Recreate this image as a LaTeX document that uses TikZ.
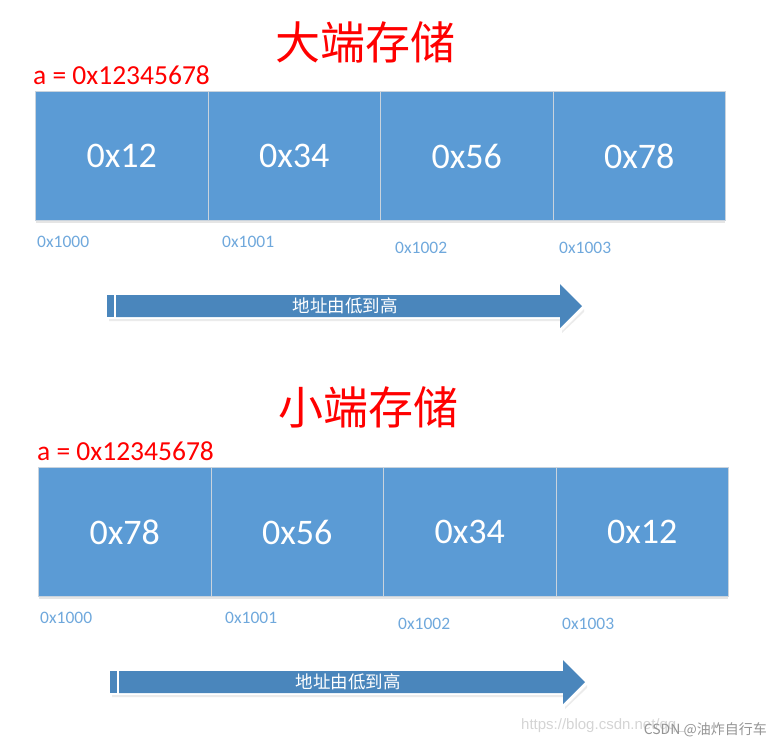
\documentclass[tikz,border=0pt]{standalone}
\usepackage{fontspec}
\setmainfont{Carlito}
\newfontfamily\cjk{Noto Sans CJK SC}
\newfontfamily\wmfont{Liberation Sans}
\definecolor{cellblue}{HTML}{5B9BD5}
\definecolor{arrowblue}{HTML}{4A86BC}
\definecolor{addrblue}{HTML}{6FA8DC}
\definecolor{divgray}{HTML}{C9D3DD}
\definecolor{wmgray}{HTML}{B8B8B8}
\begin{document}
\begin{tikzpicture}[x=1pt,y=-1pt,
  titletext/.style={text=red,font=\cjk\fontsize{45}{50}\selectfont,inner sep=0},
  vartext/.style={text=red,font=\fontsize{27.5}{30}\selectfont,inner sep=0,anchor=west},
  cell/.style={fill=cellblue,draw=divgray,line width=1pt,minimum width=172.5pt,minimum height=129pt,inner sep=0,anchor=north west,
     text=white,font=\fontsize{36}{40}\selectfont},
  addr/.style={text=addrblue,font=\fontsize{17.5}{19}\selectfont,inner sep=0,anchor=west},
  arrtext/.style={text=white,font=\cjk\fontsize{17.5}{20}\selectfont,inner sep=0},
  shadowbox/.style={fill=black!10},
  arrowbody/.style={fill=arrowblue}
]
\useasboundingbox (0,0) rectangle (774,745);
% ---------- top: big endian ----------
\node[titletext] (t1) at (365,42) {大端存储};
\node[vartext] (v1) at (33,75) {a = 0x12345678};
\fill[shadowbox] (36,221) rectangle (725,223);
\node[cell] (a1) at (35,91) {0x12};
\node[cell] (a2) at (207.5,91) {0x34};
\node[cell] (a3) at (380,91) {0x56};
\node[cell] (a4) at (552.5,91) {0x78};
\node[addr] (d1) at (37,242) {0x1000};
\node[addr] (d2) at (222,242) {0x1001};
\node[addr] (d3) at (395,248) {0x1002};
\node[addr] (d4) at (559,248) {0x1003};
\fill[black!8] (109,319) -- (562,319) -- (562,331) -- (584,309) -- (584,312) -- (562,333) -- (562,321) -- (109,321) -- cycle;
\fill[arrowbody] (107,295) rectangle (114,317);
\fill[arrowbody] (116,295) -- (560,295) -- (560,284) -- (582,306) -- (560,328) -- (560,317) -- (116,317) -- cycle;
\node[arrtext] (l1) at (345,306) {地址由低到高};
% ---------- bottom: little endian ----------
\node[titletext] (t2) at (368,407) {小端存储};
\node[vartext] (v2) at (37,451) {a = 0x12345678};
\fill[shadowbox] (39,597) rectangle (728,599);
\node[cell] (b1) at (38,467) {0x78};
\node[cell] (b2) at (210.5,467) {0x56};
\node[cell] (b3) at (383,467) {0x34};
\node[cell] (b4) at (555.5,467) {0x12};
\node[addr] (e1) at (40,618) {0x1000};
\node[addr] (e2) at (225,618) {0x1001};
\node[addr] (e3) at (398,624) {0x1002};
\node[addr] (e4) at (562,624) {0x1003};
\fill[black!8] (112,695) -- (565,695) -- (565,707) -- (587,685) -- (587,688) -- (565,709) -- (565,697) -- (112,697) -- cycle;
\fill[arrowbody] (110,671) rectangle (117,693);
\fill[arrowbody] (119,671) -- (563,671) -- (563,660) -- (585,682) -- (563,704) -- (563,693) -- (119,693) -- cycle;
\node[arrtext] (l2) at (348,682) {地址由低到高};
% ---------- watermark ----------
\node[text=wmgray!60,font=\wmfont\fontsize{15}{16}\selectfont,inner sep=0,anchor=west] (w1) at (521,726) {https://blog.csdn.net/qq\_};
\node[text=wmgray!150,font=\cjk\fontsize{14}{15}\selectfont,inner sep=0,anchor=east] (w2) at (767,730) {CSDN @油炸自行车};
\end{tikzpicture}
\end{document}
